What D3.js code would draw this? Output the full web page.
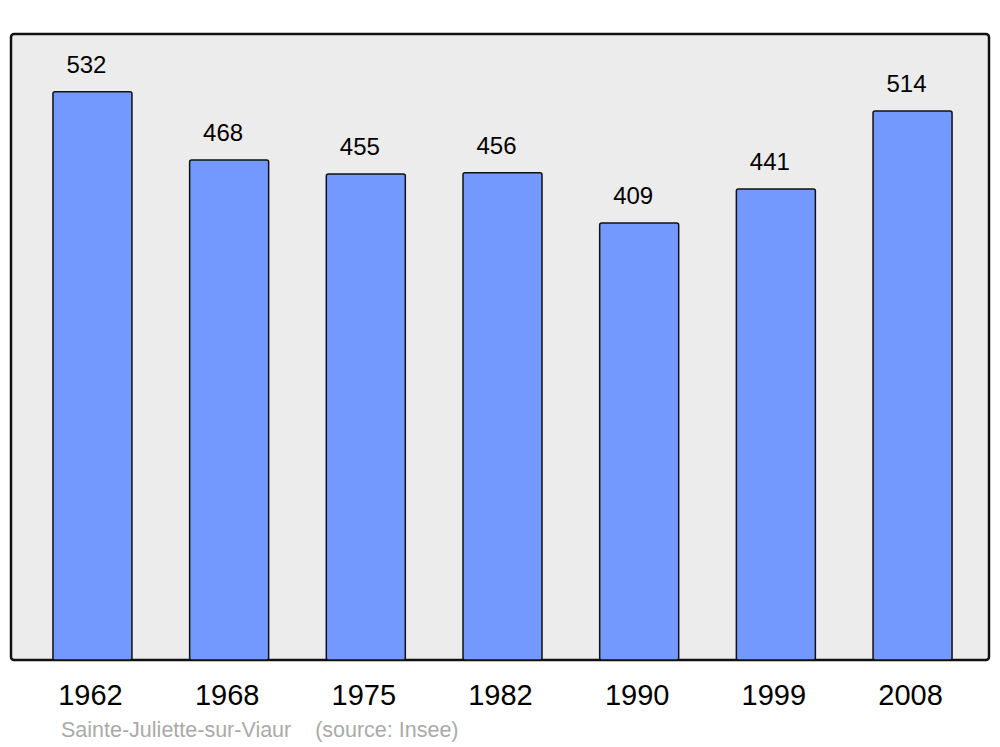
<!DOCTYPE html>
<html>
<head>
<meta charset="utf-8">
<script src="https://cdn.jsdelivr.net/npm/d3@7"></script>
<style>
  body { margin: 0; background: #fff; }
  text { font-family: "Liberation Sans", Arial, sans-serif; }
</style>
</head>
<body>
<div id="chart"></div>
<script>
// population by census year
const years = ["1962", "1968", "1975", "1982", "1990", "1999", "2008"];
const population = [532, 468, 455, 456, 409, 441, 514];
const commune = "Sainte-Juliette-sur-Viaur";
const source = "(source: Insee)";

const data = years.map((y, i) => ({ year: y, value: population[i] }));

var width = 1000, height = 747;
var panel = { left: 11, top: 34, right: 989, bottom: 660 };

var svg = d3.select("#chart")
  .append("svg")
  .attr("width", width)
  .attr("height", height);

// grey panel
svg.append("rect")
  .attr("x", panel.left)
  .attr("y", panel.top)
  .attr("width", panel.right - panel.left)
  .attr("height", panel.bottom - panel.top)
  .attr("rx", 3)
  .attr("fill", "#ececec")
  .attr("stroke", "#111")
  .attr("stroke-width", 2.5);

var x = d3.scaleBand()
  .domain(years)
  .range([14, 991])
  .paddingInner(0.422)
  .paddingOuter(0.285);

var y = d3.scaleLinear()
  .domain([0, 586])
  .range([panel.bottom, panel.top]);

// bars
svg.selectAll("rect.bar")
  .data(data)
  .enter()
  .append("rect")
    .attr("class", "bar")
    .attr("x", d => x(d.year))
    .attr("y", d => y(d.value))
    .attr("width", x.bandwidth())
    .attr("height", d => y(0) - y(d.value))
    .attr("rx", 2)
    .attr("fill", "#7399ff")
    .attr("stroke", "#111")
    .attr("stroke-width", 1.5);

// value labels
svg.selectAll("text.val")
  .data(data)
  .enter()
  .append("text")
    .attr("class", "val")
    .attr("x", d => x(d.year) + x.bandwidth() / 2 - 6)
    .attr("y", d => y(d.value) - 19)
    .attr("text-anchor", "middle")
    .attr("font-size", 24)
    .attr("fill", "#000")
    .text(d => d.value);

// year labels
svg.selectAll("text.year")
  .data(data)
  .enter()
  .append("text")
    .attr("class", "year")
    .attr("x", d => x(d.year) + x.bandwidth() / 2 - 2)
    .attr("y", 705)
    .attr("text-anchor", "middle")
    .attr("font-size", 29)
    .attr("fill", "#000")
    .text(d => d.year);

// footer
svg.append("text")
  .attr("x", 61)
  .attr("y", 737)
  .attr("font-size", 21.5)
  .attr("fill", "#aaa")
  .attr("xml:space", "preserve")
  .text(commune + "    " + source);
</script>
</body>
</html>
